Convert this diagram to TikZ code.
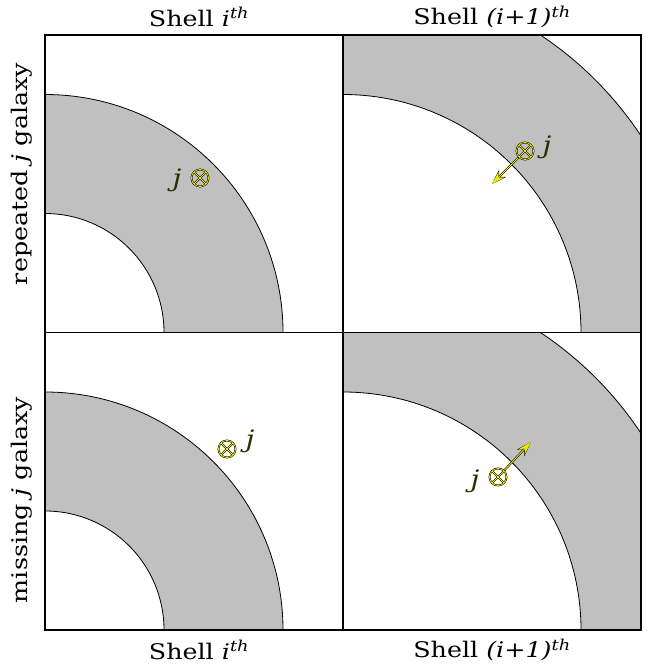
\documentclass[tikz,border=0pt]{standalone}
\usepackage{fontspec}
\setmainfont{DejaVu Serif}[FakeStretch=1.18]
\usetikzlibrary{arrows.meta}
\definecolor{shellgray}{RGB}{192,192,192}
\definecolor{mkyellow}{RGB}{235,235,0}
\definecolor{jcol}{RGB}{45,45,0}
\tikzset{
  arcline/.style={black, line width=0.8pt},
  panel/.style={draw=black, line width=1.5pt, minimum width=298pt, minimum height=297.5pt, inner sep=0pt},
  lab/.style={font=\fontsize{21.5}{25}\selectfont, inner sep=0pt},
  jlab/.style={font=\fontsize{24}{27}\selectfont\itshape, text=jcol, inner sep=0pt},
  mk/.style={circle, minimum size=17pt, inner sep=0pt},
}
\newcommand\drawmark[1]{%
  \foreach \c/\w in {black/1.8pt, mkyellow/0.8pt}{%
    \draw[\c, line width=\w] (#1) circle[radius=8.5pt]
      (#1.north west) -- (#1.south east) (#1.north east) -- (#1.south west);
  }}
\newcommand\drawmove[2]{%
  \draw[black, line width=2pt, -{Stealth[length=15pt,width=10pt,inset=5pt]}] (#1) -- (#2);
  \draw[mkyellow, line width=0.9pt, -{Stealth[length=13.5pt,width=8pt,inset=4.5pt]}] (#1) -- (#2);
}
\newcommand\shell[4]{% x0,y0 (panel lower-left), inner r, outer r
  \begin{scope}
    \clip (#1,#2) rectangle ++(298,-297.5);
    \fill[shellgray, even odd rule] (#1,#2) circle[radius=#4pt] (#1,#2) circle[radius=#3pt];
    \draw[arcline] (#1,#2) circle[radius=#4pt] (#1,#2) circle[radius=#3pt];
  \end{scope}}
\begin{document}
\begin{tikzpicture}[x=1pt,y=-1pt]
\useasboundingbox (0,0) rectangle (655,666);
\fill[white] (0,0) rectangle (655,666);
% shells
\shell{45}{332.5}{119}{238}
\shell{343}{332.5}{238}{357}
\shell{45}{630}{119}{238}
\shell{343}{630}{238}{357}
% panels
\node[panel] (tl) at (194,183.75) {};
\node[panel] (tr) at (492,183.75) {};
\node[panel] (bl) at (194,481.25) {};
\node[panel] (br) at (492,481.25) {};
% labels
\node[lab] (t1) at (199,17) {Shell \textit{i}\textsuperscript{\textit{th}}};
\node[lab] (t2) at (492,17) {Shell \textit{(i+1)}\textsuperscript{\textit{th}}};
\node[lab] (b1) at (199,650) {Shell \textit{i}\textsuperscript{\textit{th}}};
\node[lab] (b2) at (492,650) {Shell \textit{(i+1)}\textsuperscript{\textit{th}}};
\node[lab, rotate=90] (s1) at (22,174) {repeated \textit{j} galaxy};
\node[lab, rotate=90] (s2) at (22,500) {missing \textit{j} galaxy};
% markers
\node[mk] (m1) at (200,178) {};
\node[mk] (m2) at (525,151) {};
\node[mk] (m3) at (227,449) {};
\node[mk] (m4) at (498,477) {};
\coordinate (a2) at (492,184);
\coordinate (a4) at (531,442);
\drawmove{m2}{a2}
\drawmove{m4}{a4}
\drawmark{m1}
\drawmark{m2}
\drawmark{m3}
\drawmark{m4}
\node[jlab] (j1) at (177,180) {j};
\node[jlab] (j2) at (547,147) {j};
\node[jlab] (j3) at (250,441) {j};
\node[jlab] (j4) at (475,481) {j};
\end{tikzpicture}
\end{document}
